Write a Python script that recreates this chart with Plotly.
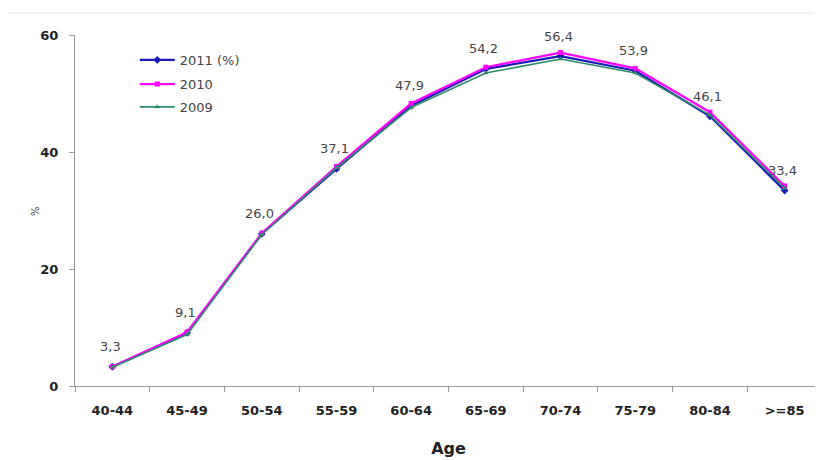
import plotly.graph_objects as go

ages = ["40-44", "45-49", "50-54", "55-59", "60-64", "65-69", "70-74", "75-79", "80-84", ">=85"]
y2011 = [3.3, 9.1, 26.0, 37.1, 47.9, 54.2, 56.4, 53.9, 46.1, 33.4]
y2010 = [3.3, 9.2, 26.1, 37.5, 48.3, 54.5, 57.0, 54.3, 46.8, 34.2]
y2009 = [3.2, 8.8, 25.9, 37.3, 47.6, 53.5, 55.9, 53.5, 46.3, 33.8]
yticks = [0, 20, 40, 60]

labels = [f"{v:.1f}".replace(".", ",") for v in y2011]

FONT = "DejaVu Sans"

fig = go.Figure()
fig.add_trace(go.Scatter(x=ages, y=y2011, name="2011 (%)", mode="lines+markers",
                         line=dict(color="#1A1AB8", width=2.2),
                         marker=dict(symbol="diamond", size=6, color="#1A1AB8"),
                         legend="legend"))
fig.add_trace(go.Scatter(x=ages, y=y2010, name="2010", mode="lines+markers",
                         line=dict(color="#FF00FF", width=2.2),
                         marker=dict(symbol="square", size=5, color="#FF00FF"),
                         legend="legend2"))
fig.add_trace(go.Scatter(x=ages, y=y2009, name="2009", mode="lines+markers",
                         line=dict(color="#2E8B6A", width=1.6),
                         marker=dict(symbol="triangle-up", size=5, color="#2E8B6A"),
                         legend="legend3"))

annotations = [
    dict(x=a, y=v, text=t, showarrow=False, xshift=-2, yshift=20,
         font=dict(family=FONT, size=13, color="#444444"))
    for a, v, t in zip(ages, y2011, labels)
]
annotations.append(dict(text="%", xref="paper", yref="paper", x=-0.063, y=0.5, showarrow=False,
                        textangle=-90, font=dict(size=10, color="#333333", family=FONT)))

leg_common = dict(x=0.080, xanchor="left", yanchor="middle", bgcolor="rgba(0,0,0,0)",
                  font=dict(family=FONT, size=13, color="#444444"), itemwidth=35)

fig.update_layout(
    width=823, height=460,
    margin=dict(l=67, r=9, t=27, b=82),
    paper_bgcolor="white", plot_bgcolor="white",
    font=dict(family=FONT, color="#222222"),
    showlegend=True,
    legend=dict(y=0.9288, **leg_common),
    legend2=dict(y=0.860, **leg_common),
    legend3=dict(y=0.795, **leg_common),
    shapes=[dict(type="rect", xref="paper", yref="paper", x0=-0.0977, x1=1.2,
                 y0=-0.5, y1=1.0627, line=dict(color="#E6E6E6", width=1))],
    annotations=annotations,
)
fig.update_xaxes(
    type="category", range=[-0.5, 9.5],
    showline=True, linecolor="#999999", linewidth=1,
    ticks="outside", tickson="boundaries", ticklen=5, tickcolor="#999999",
    tickfont=dict(family=FONT, size=13, color="#222222", weight="bold"),
    ticklabelstandoff=12,
    title=dict(text="Age", font=dict(family=FONT, size=16, color="#222222", weight="bold"), standoff=26),
    showgrid=False, zeroline=False,
)
fig.update_yaxes(
    range=[0, 60], tickvals=yticks,
    showline=True, linecolor="#999999", linewidth=1,
    ticks="outside", ticklen=5, tickcolor="#999999",
    tickfont=dict(family=FONT, size=13, color="#222222", weight="bold"),
    ticklabelstandoff=8,
    showgrid=False, zeroline=False,
)
fig.write_html("out.html")
